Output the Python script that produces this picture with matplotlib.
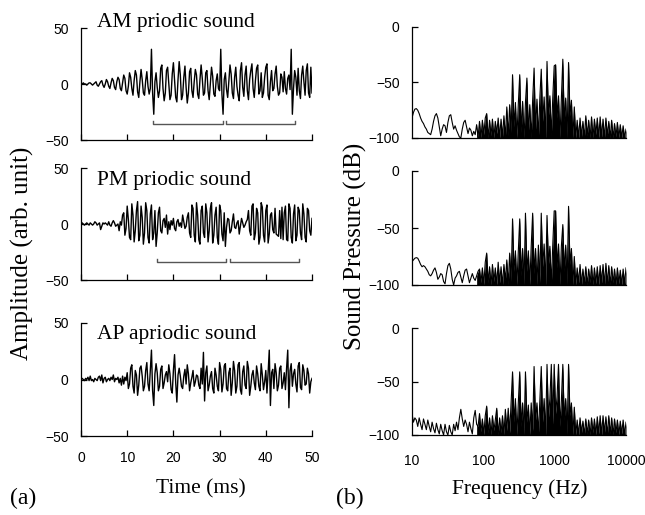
import numpy as np
import matplotlib
matplotlib.use("Agg")
import matplotlib.pyplot as plt

# ---- time axis of the waveforms (ms) and the frequency axis of the spectra (Hz)
t = np.linspace(0, 50, 201)
freq = np.logspace(1, 4, 150)

# ---- waveforms (one group = 1 ms, 4 samples)
wave_am = [
    0, 0, 1, 0,   0, -1, 0, 1,   1, 0, -1, 0,   1, 2, -1, -2,   0, 2, 3, -1,
    -3, 0, 4, 2,   -2, -4, 1, 5,   3, -3, -5, 2,   6, 4, -4, -6,   1, 8, 5, -6,
    -9, -2, 10, 6,   -4, -10, 3, 12,   8, -7, -12, 2,   13, 4, -8, -10,   3, 11, -2, -9,
    -4, 31, -8, -27,   2, 10, -3, -12,   -6, 14, 17, -4,   -15, -8, 12, 15,   0, -14, -10, 9,
    19, 3, -12, -16,   4, 20, 8, -14,   -10, 6, 16, -3,   -17, -8, 11, 14,   -6, -12, 2, 13,
    8, -9, -13, 4,   17, 5, -10, -8,   10, 12, -6, -14,   0, 15, 7, -9,   -11, 3, 9, -4,
    -6, 31, -9, -27,   4, 10, -5, -12,   2, 17, 9, -8,   -13, 6, 15, -2,   -10, -15, 12, 19,
    -3, -11, 8, 16,   -6, -14, 4, 12,   18, -4, -12, 3,   14, 17, -9, -6,   10, -12, -8, 6,
    15, 18, -10, -14,   2, 12, -6, -4,   9, 16, -2, -10,   -8, 9, 6, -7,   11, -4, -9, 5,
    8, -5, 31, -27,   -4, 12, 6, -10,   14, -6, -13, 8,   16, 2, -10, 12,   18, -8, -12, 15,
    -8]
wave_pm = [
    0, 1, 0, -1,   0, 1, 0, -1,   1, 0, -1, 0,   2, 1, -1, 0,   1, -5, -2, 1,
    0, 1, 0, -1,   2, -1, -2, 1,   3, 1, -2, -1,   0, -6, 2, -1,   8, 10, -10, -4,
    16, 4, -12, -14,   18, 8, -16, -6,   12, 20, -15, -10,   16, 6, -18, -8,   19, 12, -12, -17,
    9, 17, -14, -8,   12, -20, -8, 10,   15, -6, -8, 3,   5, -3, 8, -9,   2, -5, 3, -1,
    5, -4, -6, 2,   4, -2, 1, -3,   8, 2, -4, -2,   6, 10, -8, -12,   17, 14, -10, -16,
    19, 8, -14, -18,   12, 16, -8, -12,   18, 10, -16, -6,   14, 19, -17, -10,   8, 15, -12, -18,
    17, 12, -9, -15,   10, -20, -3, 5,   4, -8, -6, 2,   9, -3, -4, 1,   3, -9, -2, 5,
    1, -3, -1, 2,   4, 12, -6, -10,   16, 18, -14, -8,   14, 10, -18, -12,   19, 15, -10, -16,
    12, 17, -17, -9,   8, 10, -5, -8,   14, -9, -10, -11,   12, -13, 15, -14,   10, 16, -14, -15,
    18, 14, -12, -17,   9, 17, -15, -10,   15, 12, -8, -14,   18, 9, -12, -16,   14, 12, -6, -10,
    5]
wave_ap = [
    0, 1, 0, -1,   1, 0, 2, -1,   3, -1, 0, -2,   1, 0, -1, 2,   3, -1, 4, -3,
    1, 2, -2, 0,   1, -1, 2, 0,   4, -2, 1, 0,   2, -3, 1, -5,   3, -4, 2, -1,
    6, -8, -4, 10,   13, -6, -12, 8,   4, -14, -5, 10,   12, 3, -10, -6,   8, 15, -4, -10,
    8, 26, -10, -23,   5, 14, 6, -10,   -6, 9, 12, -8,   -3, 4, 7, -2,   13, 5, -9, -12,
    8, 22, -3, -20,   4, 10, 3, -6,   -8, 3, 9, -4,   13, 5, -10, -3,   2, 8, -6, -2,
    4, 3, -5, -8,   10, -4, 24, -19,   6, 12, -10, -5,   3, 7, -8, -12,   10, 4, -6, -10,
    15, 9, -11, -4,   12, 14, -8, -10,   6, 10, -14, -3,   16, 8, -12, -6,   13, 15, -9, -13,
    7, 12, -5, -8,   16, 10, -14, -6,   4, 8, -3, -9,   12, 5, -6, -10,   14, 4, -9, -2,
    8, -12, 6, 26,   -23, 6, 9, -8,   14, 6, -10, -5,   10, 12, -8, -3,   6, -9, 10, 26,
    -25, 8, 14, -6,   5, 9, -4, -11,   12, 15, -7, -9,   13, 8, -5, -4,   10, 5, -12, -2,
    1]

# ---- brackets under the periodic waveforms: (start ms, end ms), level
brackets_am = [(15.6, 30.7), (31.4, 46.3)]
brackets_pm = [(16.4, 31.4), (32.2, 47.2)]
bracket_level_am = -36
bracket_level_pm = -34

# ---- spectra (dB) on the log frequency grid
spec_am = [
    -82, -77, -74, -73.5, -75, -78, -82, -85, -87, -90, -92, -95, -96, -97, -92,
    -85, -80, -78, -82, -90, -98, -92, -88, -89, -95, -86, -80, -79, -86, -92,
    -89, -93, -96, -99, -100, -92, -86, -84, -90, -96, -91, -93, -98, -94, -97,
    -88, -99, -85, -100, -84, -97, -82, -78, -100, -84, -98, -83, -100, -85, -96,
    -82, -100, -83, -99, -80, -100, -72, -98, -70, -95, -43, -90, -68, -100, -70,
    -43, -95, -67, -100, -68, -46, -96, -70, -100, -66, -37, -92, -65, -100, -64,
    -38, -85, -63, -100, -31, -80, -62, -98, -64, -35, -34, -82, -62, -100, -65,
    -29, -85, -64, -100, -32, -80, -66, -100, -72, -100, -84, -100, -82, -99, -85,
    -100, -80, -98, -84, -100, -81, -100, -83, -97, -82, -100, -81, -99, -83, -100,
    -82, -98, -85, -100, -84, -100, -87, -99, -86, -100, -88, -100, -89, -100, -92]
spec_pm = [
    -79.5, -78, -76.5, -76, -76.5, -79, -82, -84, -83, -84, -86, -88, -91, -92, -90,
    -87, -85, -89, -95, -93, -90, -91, -97, -99, -90, -83, -81, -86, -95, -100,
    -94, -92, -89, -88, -93, -98, -92, -87, -86, -92, -98, -94, -90, -94, -96,
    -92, -88, -86, -98, -85, -100, -80, -72, -98, -84, -100, -82, -97, -85, -100,
    -80, -98, -84, -100, -82, -96, -78, -100, -72, -97, -42, -88, -70, -100, -72,
    -42, -92, -68, -100, -37, -88, -70, -100, -66, -37, -90, -68, -100, -65, -98,
    -37, -84, -64, -100, -39, -82, -66, -100, -65, -35, -35, -85, -64, -100, -66,
    -47, -88, -65, -100, -31, -82, -68, -100, -75, -100, -85, -98, -82, -100, -86,
    -99, -84, -100, -86, -98, -83, -100, -85, -99, -84, -100, -83, -98, -82, -100,
    -81, -99, -83, -100, -84, -98, -86, -100, -85, -99, -87, -100, -86, -99, -85]
spec_ap = [
    -80, -88, -84, -86, -92, -84, -90, -95, -85, -90, -95, -86, -92, -97, -88,
    -94, -98, -89, -95, -99, -90, -96, -100, -90, -97, -100, -91, -97, -100, -90,
    -96, -88, -95, -84, -76, -85, -92, -86, -90, -97, -88, -94, -99, -84, -77,
    -90, -92, -80, -97, -85, -100, -82, -73, -98, -84, -100, -82, -96, -86, -75,
    -100, -84, -98, -82, -100, -76, -96, -75, -98, -70, -41, -88, -66, -100, -70,
    -41, -92, -70, -100, -41, -88, -72, -100, -70, -96, -36, -86, -70, -100, -68,
    -36, -88, -66, -100, -34, -84, -66, -34, -90, -34, -80, -64, -34, -92, -68,
    -34, -86, -66, -100, -34, -82, -70, -100, -74, -100, -86, -100, -84, -98, -87,
    -100, -85, -99, -86, -100, -84, -98, -85, -100, -83, -99, -82, -100, -82, -98,
    -83, -100, -82, -99, -84, -100, -85, -98, -86, -100, -87, -99, -86, -100, -88]

titles = ["AM priodic sound", "PM priodic sound", "AP apriodic sound"]
title_y = [1.05, 0.89, 0.90]
dense_from_hz = 80

serif = "Liberation Serif"
sans = "Liberation Sans"

fig = plt.figure(figsize=(6.45, 5.15), dpi=100)

# axes rectangles measured in pixels from the reference
left_boxes = [(81, 28, 312, 140), (81, 168, 312, 280), (81, 323, 312, 436)]
right_boxes = [(412, 27, 626, 138), (412, 171, 626, 285), (412, 328, 626, 435)]


def make_ax(box):
    x0, y0, x1, y1 = box
    return fig.add_axes([x0 / 645, 1 - y1 / 515, (x1 - x0) / 645, (y1 - y0) / 515])


waves = [wave_am, wave_pm, wave_ap]
brackets = [(brackets_am, bracket_level_am), (brackets_pm, bracket_level_pm), None]
for k in range(3):
    ax = make_ax(left_boxes[k])
    ax.plot(t, waves[k], color="black", lw=1.0)
    if brackets[k] is not None:
        spans, lvl = brackets[k]
        for a, b in spans:
            ax.plot([a, a, b, b], [lvl + 3, lvl, lvl, lvl + 3], color="#555555", lw=1.0)
    ax.set_xlim(0, 50)
    ax.set_ylim(-50, 50)
    ax.set_yticks([-50, 0, 50])
    ax.set_xticks([0, 10, 20, 30, 40, 50])
    for s in ["top", "right"]:
        ax.spines[s].set_visible(False)
    for s in ["left", "bottom"]:
        ax.spines[s].set_linewidth(0.9)
    ax.tick_params(direction="in", length=4, width=0.9, labelsize=10)
    ax.tick_params(axis="x", pad=11)
    ax.tick_params(axis="y", pad=9)
    if k < 2:
        ax.set_xticklabels([])
    for lab in ax.get_xticklabels() + ax.get_yticklabels():
        lab.set_fontfamily(sans)
    ax.text(0.07, title_y[k], titles[k], transform=ax.transAxes, fontsize=15.5,
            family=serif, va="center", ha="left", clip_on=False)

specs = [spec_am, spec_pm, spec_ap]
for k in range(3):
    ax = make_ax(right_boxes[k])
    s = np.array(specs[k])
    ax.plot(freq, s, color="black", lw=0.8)
    ax.fill_between(freq, s, -100, where=freq >= dense_from_hz, color="black", lw=0)
    ax.set_xscale("log")
    ax.set_xlim(10, 10000)
    ax.set_ylim(-100, 0)
    ax.set_yticks([-100, -50, 0])
    ax.set_xticks([10, 100, 1000, 10000])
    ax.set_xticklabels(["10", "100", "1000", "10000"])
    ax.minorticks_off()
    for sp in ["top", "right"]:
        ax.spines[sp].set_visible(False)
    for sp in ["left", "bottom"]:
        ax.spines[sp].set_linewidth(0.9)
    ax.tick_params(axis="y", direction="in", length=4, width=0.9, labelsize=10, pad=9)
    ax.tick_params(axis="x", length=0, labelsize=10, pad=14)
    if k < 2:
        ax.set_xticklabels([])
    for lab in ax.get_xticklabels() + ax.get_yticklabels():
        lab.set_fontfamily(sans)

fig.text(201 / 645, 1 - 489 / 515, "Time (ms)", fontsize=15.5, family=serif,
         ha="center", va="center")
fig.text(520 / 645, 1 - 489 / 515, "Frequency (Hz)", fontsize=15.5, family=serif,
         ha="center", va="center")
fig.text(22 / 645, 1 - 253 / 515, "Amplitude (arb. unit)", rotation=90, fontsize=18,
         family=serif, ha="center", va="center")
fig.text(355 / 645, 1 - 246 / 515, "Sound Pressure (dB)", rotation=90, fontsize=18,
         family=serif, ha="center", va="center")
fig.text(23 / 645, 1 - 498 / 515, "(a)", fontsize=17, family=serif, ha="center", va="center")
fig.text(350 / 645, 1 - 498 / 515, "(b)", fontsize=17, family=serif, ha="center", va="center")

fig.savefig("out.png", dpi=100)
